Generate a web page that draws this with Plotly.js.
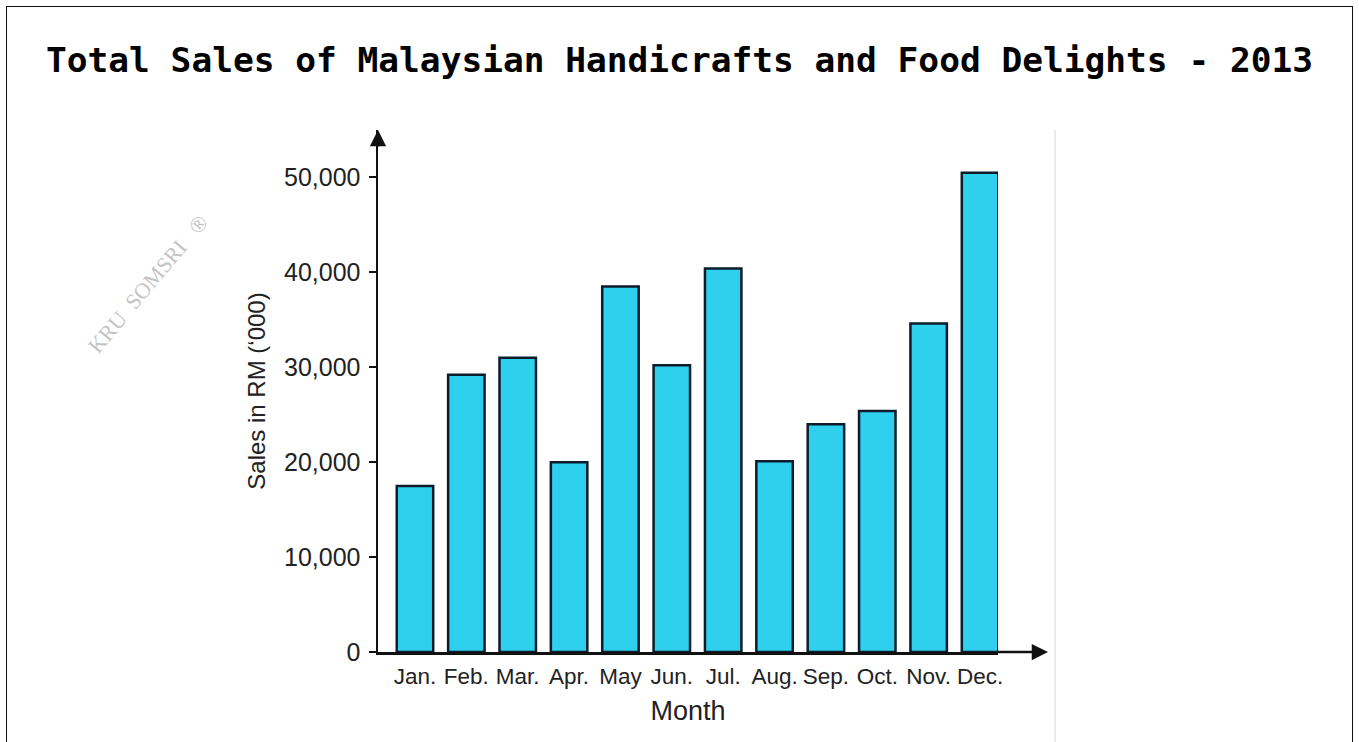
<!DOCTYPE html>
<html>
<head>
<meta charset="utf-8">
<script src="https://cdn.plot.ly/plotly-3.0.1.min.js"></script>
<style>
  html, body { margin: 0; padding: 0; background: #fff; }
  #chart { width: 1359px; height: 742px; position: absolute; left: 0; top: 0; }
  #frame { position: absolute; left: 6px; top: 6px; width: 1345px; height: 760px;
           border: 1.5px solid #111; pointer-events: none; }
</style>
</head>
<body>
<div id="chart"></div>
<div id="frame"></div>
<script>
// ---- data ----
const months = ["Jan.", "Feb.", "Mar.", "Apr.", "May", "Jun.", "Jul.", "Aug.", "Sep.", "Oct.", "Nov.", "Dec."];
const sales = [17500, 29200, 31000, 20000, 38500, 30200, 40400, 20100, 24000, 25400, 34600, 50500];
const yTickVals = [0, 10000, 20000, 30000, 40000, 50000];
const yTickText = ["0", "10,000", "20,000", "30,000", "40,000", "50,000"];

const titleText = "Total Sales of Malaysian Handicrafts and Food Delights - 2013";
const yTitle = "Sales in RM (‘000)";
const xTitle = "Month";
const watermark = "KRU  SOMSRI   ®";

const trace = {
  type: "bar",
  x: months,
  y: sales,
  width: 0.71,
  marker: { color: "#2fd0ee", line: { color: "#0d1b2a", width: 2.5 } },
  hoverinfo: "x+y"
};

const layout = {
  width: 1359, height: 742,
  margin: { l: 378, r: 361, t: 130, b: 90 },
  paper_bgcolor: "#ffffff",
  plot_bgcolor: "#ffffff",
  showlegend: false,
  title: {
    text: "<b>" + titleText + "</b>",
    x: 0.5, xref: "container", xanchor: "center",
    y: 0.919, yref: "container", yanchor: "middle",
    font: { family: "DejaVu Sans Mono, monospace", size: 34.5, color: "#000" }
  },
  xaxis: {
    type: "category",
    range: [-0.72, 11.35],
    showline: true, linecolor: "#111", linewidth: 2.5,
    showgrid: false, zeroline: false,
    ticks: "",
    tickangle: 0,
    ticklabelstandoff: 2,
    tickfont: { family: "Liberation Sans, Arial", size: 22.5, color: "#222" },
    title: { text: xTitle, standoff: 14,
             font: { family: "Liberation Sans, Arial", size: 27, color: "#222" } },
    fixedrange: true
  },
  yaxis: {
    range: [0, 55000],
    tickmode: "array", tickvals: yTickVals, ticktext: yTickText,
    showline: true, linecolor: "#111", linewidth: 2.5,
    showgrid: false, zeroline: false,
    ticks: "outside", ticklen: 7, tickwidth: 2, tickcolor: "#111",
    ticklabelstandoff: 3,
    tickfont: { family: "Liberation Sans, Arial", size: 25, color: "#222" },
    title: { text: yTitle, standoff: 12,
             font: { family: "Liberation Sans, Arial", size: 24, color: "#222" } },
    fixedrange: true
  },
  annotations: [
    { // x-axis arrow extension
      xref: "paper", yref: "y", x: 1.0806, y: 0,
      axref: "pixel", ayref: "pixel", ax: -52, ay: 0,
      showarrow: true, arrowhead: 2, arrowsize: 1.3, arrowwidth: 2.5, arrowcolor: "#111",
      text: "", standoff: 0
    },
    { // y-axis arrow head
      xref: "x", yref: "paper", x: -0.72, y: 1.0,
      axref: "pixel", ayref: "pixel", ax: 0, ay: 18,
      showarrow: true, arrowhead: 2, arrowsize: 1.3, arrowwidth: 2.5, arrowcolor: "#111",
      text: "", standoff: 0
    },
    { // watermark
      xref: "paper", yref: "paper", x: -0.37, y: 0.705,
      xanchor: "center", yanchor: "middle",
      text: watermark, showarrow: false, textangle: -50,
      font: { family: "Liberation Serif, serif", size: 22, color: "#c4c4c4" }
    }
  ],
  shapes: [
    { type: "line", xref: "paper", yref: "paper",
      x0: 1.092, x1: 1.092, y0: -0.18, y1: 1.0,
      line: { color: "#e4e4e4", width: 1.5 } }
  ]
};

Plotly.newPlot("chart", [trace], layout, { displayModeBar: false, staticPlot: true });
</script>
</body>
</html>
